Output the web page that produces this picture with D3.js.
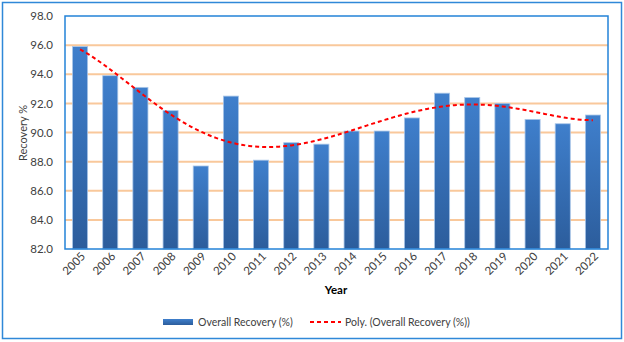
<!DOCTYPE html>
<html>
<head>
<meta charset="utf-8">
<script src="https://cdn.jsdelivr.net/npm/d3@7"></script>
<style>
    body { margin: 0; background: #fff; }
    text { font-family: Lato, "Open Sans", sans-serif; fill: #404040; }
</style>
</head>
<body>
<div id="wrapper"></div>
<script>
const years = [2005, 2006, 2007, 2008, 2009, 2010, 2011, 2012, 2013,
    2014, 2015, 2016, 2017, 2018, 2019, 2020, 2021, 2022];
const recovery = [95.9, 93.9, 93.1, 91.5, 87.7, 92.5, 88.1, 89.3, 89.2,
    90.1, 90.1, 91.0, 92.7, 92.4, 92.0, 90.9, 90.6, 91.2];
const yTicks = [82, 84, 86, 88, 90, 92, 94, 96, 98];
const trendOrder = 5;

let dimension = {
    width: 624,
    height: 342,
    margin: { top: 16, left: 65, bottom: 93, right: 16 }
}
dimension.boundedWidth = dimension.width - dimension.margin.left - dimension.margin.right;
dimension.boundedHeight = dimension.height - dimension.margin.top - dimension.margin.bottom;

// least squares polynomial trendline over x = 1..n (scaled by 1/10 for stability)
function polyFit(ys, order) {
    const n = order + 1;
    const A = [];
    for (let r = 0; r < n; r++) {
        A.push(new Array(n + 1).fill(0));
    }
    ys.forEach((y, i) => {
        const x = (i + 1) / 10;
        for (let r = 0; r < n; r++) {
            for (let c = 0; c < n; c++) A[r][c] += Math.pow(x, r + c);
            A[r][n] += y * Math.pow(x, r);
        }
    });
    for (let k = 0; k < n; k++) {
        let p = k;
        for (let r = k + 1; r < n; r++) if (Math.abs(A[r][k]) > Math.abs(A[p][k])) p = r;
        [A[k], A[p]] = [A[p], A[k]];
        for (let r = 0; r < n; r++) {
            if (r === k) continue;
            const f = A[r][k] / A[k][k];
            for (let c = k; c <= n; c++) A[r][c] -= f * A[k][c];
        }
    }
    const coef = A.map((row, i) => row[n] / row[i]);
    return t => coef.reduce((s, c, i) => s + c * Math.pow(t / 10, i), 0);
}

function buildPlot() {
    const svg = d3.select("#wrapper").append("svg")
        .attr("width", dimension.width)
        .attr("height", dimension.height);

    const defs = svg.append("defs");
    const grad = defs.append("linearGradient")
        .attr("id", "barFill")
        .attr("x1", 0).attr("y1", 0).attr("x2", 0).attr("y2", 1);
    grad.append("stop").attr("offset", "0%").attr("stop-color", "#3f7fcc");
    grad.append("stop").attr("offset", "100%").attr("stop-color", "#2c5d9c");

    // chart frame
    svg.append("rect")
        .attr("x", 2.5).attr("y", 2.5)
        .attr("width", 619).attr("height", 336)
        .attr("fill", "#fff")
        .attr("stroke", "#2f88d8")
        .attr("stroke-width", 1.5);

    const bounds = svg.append("g")
        .attr("transform", `translate(${dimension.margin.left},${dimension.margin.top})`);

    const xScale = d3.scaleBand()
        .domain(years)
        .range([0, dimension.boundedWidth])
        .paddingInner(0.5)
        .paddingOuter(0.25);

    const yScale = d3.scaleLinear()
        .domain([82, 98])
        .range([dimension.boundedHeight, 0]);

    // gridlines
    bounds.append("g")
        .selectAll("line")
        .data(yTicks.slice(1, -1))
        .join("line")
        .attr("x1", 0)
        .attr("x2", dimension.boundedWidth)
        .attr("y1", d => yScale(d))
        .attr("y2", d => yScale(d))
        .attr("stroke", "#f9c89b")
        .attr("stroke-width", 2);

    // bars
    bounds.append("g")
        .selectAll("rect")
        .data(recovery)
        .join("rect")
        .attr("x", (d, i) => xScale(years[i]))
        .attr("y", d => yScale(d))
        .attr("width", xScale.bandwidth())
        .attr("height", d => dimension.boundedHeight - yScale(d))
        .attr("fill", "url(#barFill)")
        .attr("stroke", "#a9c6e8")
        .attr("stroke-width", 0.8);

    // trendline
    const trend = polyFit(recovery, trendOrder);
    const x0 = xScale(years[0]) + xScale.bandwidth() / 2;
    const step = xScale.step();
    const pts = d3.range(1, recovery.length + 0.001, 0.1);
    const line = d3.line()
        .x(t => x0 + (t - 1) * step)
        .y(t => yScale(trend(t)));
    bounds.append("path")
        .datum(pts)
        .attr("d", line)
        .attr("fill", "none")
        .attr("stroke", "#ff0000")
        .attr("stroke-width", 2)
        .attr("stroke-dasharray", "4,3");

    // plot area border
    bounds.append("rect")
        .attr("x", 0).attr("y", 0)
        .attr("width", dimension.boundedWidth)
        .attr("height", dimension.boundedHeight)
        .attr("fill", "none")
        .attr("stroke", "#2382d8")
        .attr("stroke-width", 1.5);

    // y axis
    const yAxis = bounds.append("g")
        .call(d3.axisLeft(yScale).tickValues(yTicks).tickFormat(d3.format(".1f")).tickSize(0).tickPadding(12));
    yAxis.select(".domain").remove();
    yAxis.selectAll("text").style("font-size", "11.5px").attr("fill", "#404040");

    // x axis
    const xAxis = bounds.append("g")
        .attr("transform", `translate(0,${dimension.boundedHeight})`)
        .call(d3.axisBottom(xScale).tickSize(0).tickPadding(0));
    xAxis.select(".domain").remove();
    xAxis.selectAll("text")
        .style("font-size", "11.5px")
        .attr("fill", "#404040")
        .attr("text-anchor", "end")
        .attr("dy", 0)
        .attr("transform", "translate(6,8) rotate(-45)");

    svg.append("text")
        .attr("x", 336)
        .attr("y", 294)
        .attr("text-anchor", "middle")
        .style("font-size", "11.5px")
        .style("font-weight", "bold")
        .style("fill", "#000")
        .text("Year");

    svg.append("text")
        .attr("transform", "translate(27,133) rotate(-90)")
        .attr("text-anchor", "middle")
        .style("font-size", "11px")
        .text("Recovery %");

    // legend
    const legend = svg.append("g");
    legend.append("rect")
        .attr("x", 163).attr("y", 319)
        .attr("width", 30).attr("height", 6)
        .attr("fill", "url(#barFill)");
    legend.append("text")
        .attr("x", 198).attr("y", 326)
        .style("font-size", "10.5px")
        .text("Overall Recovery (%)");
    legend.append("line")
        .attr("x1", 310).attr("x2", 341)
        .attr("y1", 322).attr("y2", 322)
        .attr("stroke", "#ff0000")
        .attr("stroke-width", 2)
        .attr("stroke-dasharray", "4,3");
    legend.append("text")
        .attr("x", 345).attr("y", 326)
        .style("font-size", "10.5px")
        .text("Poly. (Overall Recovery (%))");
}

buildPlot()
</script>
</body>
</html>
